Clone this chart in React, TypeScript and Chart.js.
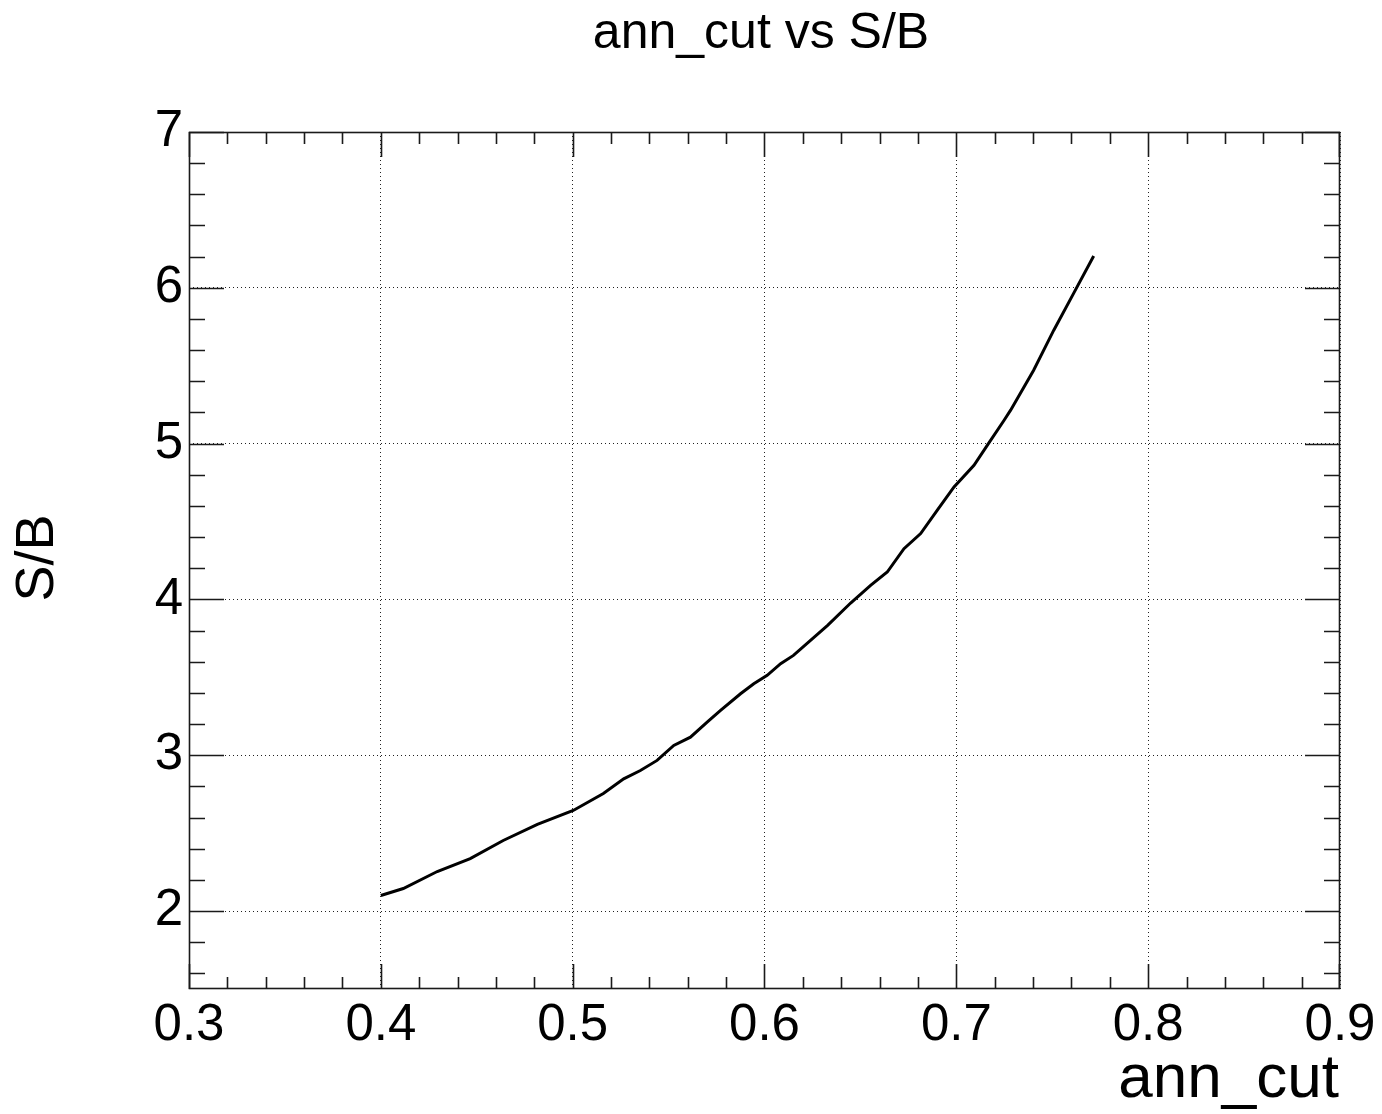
import React, { useEffect, useRef } from "react";
import { Chart, registerables } from "chart.js";

Chart.register(...registerables);

// ann_cut values (x) and S/B values (y)
const annCut = [
  0.4, 0.4117, 0.4294, 0.4466, 0.4638, 0.4816, 0.5003, 0.516, 0.5266, 0.5353,
  0.544, 0.5527, 0.5614, 0.5701, 0.5771, 0.5875, 0.5944, 0.6014, 0.6084, 0.6151,
  0.6329, 0.6449, 0.6553, 0.664, 0.6727, 0.6814, 0.69, 0.6988, 0.7092, 0.7162,
  0.7249, 0.7283, 0.7403, 0.7508, 0.7612, 0.7716,
];
const sOverB = [
  2.1, 2.145, 2.254, 2.337, 2.453, 2.556, 2.646, 2.755, 2.849, 2.902,
  2.967, 3.063, 3.116, 3.213, 3.288, 3.395, 3.459, 3.513, 3.588, 3.641,
  3.834, 3.977, 4.091, 4.176, 4.326, 4.423, 4.572, 4.722, 4.861, 4.99,
  5.15, 5.215, 5.471, 5.728, 5.966, 6.204,
];

const xTicks = [0.3, 0.4, 0.5, 0.6, 0.7, 0.8, 0.9];
const yTicks = [2, 3, 4, 5, 6, 7];
const xRange = [0.3, 0.9];
const yRange = [1.5, 7];
const minorPerMajor = 5;

const titleText = "ann_cut vs S/B";
const xTitle = "ann_cut";
const yTitle = "S/B";

const FONT = "'Liberation Sans', Arial, Helvetica, sans-serif";

function minorValues(major: number[], lo: number, hi: number): number[] {
  const step = (major[1] - major[0]) / minorPerMajor;
  const out: number[] = [];
  const start = major[0] - Math.ceil((major[0] - lo) / step) * step;
  for (let v = start; v <= hi + 1e-9; v += step) {
    const r = Math.round(v * 1e6) / 1e6;
    if (r >= lo - 1e-9) out.push(r);
  }
  return out;
}

const rootFrame = {
  id: "rootFrame",
  afterDatasetsDraw(chart: any) {
    const { ctx, chartArea: a, scales } = chart;
    const xs = scales.x;
    const ys = scales.y;
    ctx.save();
    ctx.strokeStyle = "#1a1a1a";
    ctx.lineWidth = 1.6;
    ctx.strokeRect(a.left + 0.5, a.top + 0.5, a.right - a.left - 1, a.bottom - a.top - 1);

    const xMinor = minorValues(xTicks, xRange[0], xRange[1]);
    const yMinor = minorValues(yTicks, yRange[0], yRange[1]);
    ctx.beginPath();
    for (const v of xMinor) {
      const major = xTicks.some((t) => Math.abs(t - v) < 1e-6);
      const len = major ? 25 : 12;
      let px = Math.round(xs.getPixelForValue(v)) + 0.5;
      if (px > a.right - 0.5) px = a.right - 0.5;
      ctx.moveTo(px, a.bottom);
      ctx.lineTo(px, a.bottom - len);
      ctx.moveTo(px, a.top);
      ctx.lineTo(px, a.top + len);
    }
    for (const v of yMinor) {
      const major = yTicks.some((t) => Math.abs(t - v) < 1e-6);
      const len = major ? 35 : 16;
      let py = Math.round(ys.getPixelForValue(v)) + 0.5;
      if (py > a.bottom - 0.5) py = a.bottom - 0.5;
      ctx.moveTo(a.left, py);
      ctx.lineTo(a.left + len, py);
      ctx.moveTo(a.right, py);
      ctx.lineTo(a.right - len, py);
    }
    ctx.stroke();
    ctx.restore();
  },
  afterDraw(chart: any) {
    const { ctx, chartArea: a } = chart;
    ctx.save();
    ctx.fillStyle = "#000";
    ctx.font = `50px ${FONT}`;
    ctx.textAlign = "center";
    ctx.textBaseline = "alphabetic";
    ctx.fillText(titleText, 761, 48);

    ctx.font = `62px ${FONT}`;
    ctx.textAlign = "right";
    ctx.fillText(xTitle, a.right - 1, 1097);

    ctx.save();
    ctx.translate(53, 558);
    ctx.rotate(-Math.PI / 2);
    ctx.font = `54px ${FONT}`;
    ctx.textAlign = "center";
    ctx.fillText(yTitle, 0, 0);
    ctx.restore();
    ctx.restore();
  },
};

export default function App() {
  const ref = useRef<HTMLCanvasElement | null>(null);

  useEffect(() => {
    if (!ref.current) return;
    const points = annCut.map((x, i) => ({ x, y: sOverB[i] }));
    const chart = new Chart(ref.current, {
      type: "line",
      data: {
        datasets: [
          {
            label: "S/B",
            data: points,
            borderColor: "#000",
            borderWidth: 3,
            pointRadius: 0,
            tension: 0,
            fill: false,
          },
        ],
      },
      options: {
        responsive: false,
        animation: false,
        events: [],
        layout: { padding: { top: 132, right: 42, bottom: 0, left: 0 } },
        plugins: {
          legend: { display: false },
          title: { display: false },
          tooltip: { enabled: false },
        },
        scales: {
          x: {
            type: "linear",
            min: xRange[0],
            max: xRange[1],
            afterBuildTicks: (s: any) => {
              s.ticks = xTicks.map((v) => ({ value: v }));
            },
            afterFit: (s: any) => {
              s.height = 125;
              s.paddingLeft = 0;
              s.paddingRight = 0;
            },
            ticks: {
              autoSkip: false,
              maxRotation: 0,
              padding: 6,
              color: "#000",
              font: { family: FONT, size: 51 },
              callback: (v: any) => Number(v).toFixed(1),
            },
            grid: {
              drawTicks: false,
              color: "#222",
              lineWidth: 1,
            },
            border: { display: false, dash: [1, 3] },
          },
          y: {
            type: "linear",
            min: yRange[0],
            max: yRange[1],
            afterBuildTicks: (s: any) => {
              s.ticks = yTicks.map((v) => ({ value: v }));
            },
            afterFit: (s: any) => {
              s.width = 189;
              s.paddingTop = 0;
              s.paddingBottom = 0;
            },
            ticks: {
              autoSkip: false,
              padding: 6,
              color: "#000",
              font: { family: FONT, size: 51 },
              callback: (v: any) => String(Math.round(Number(v))),
            },
            grid: {
              drawTicks: false,
              color: "#222",
              lineWidth: 1,
            },
            border: { display: false, dash: [1, 3] },
          },
        },
      },
      plugins: [rootFrame],
    });
    return () => chart.destroy();
  }, []);

  return (
    <div style={{ position: "absolute", left: 0, top: 0, width: 1382, height: 1114, background: "#fff" }}>
      <canvas ref={ref} width={1382} height={1114} style={{ display: "block" }} />
    </div>
  );
}
